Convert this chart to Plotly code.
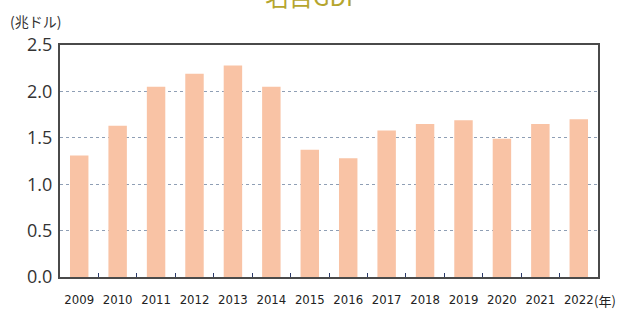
import plotly.graph_objects as go

years = ["2009", "2010", "2011", "2012", "2013", "2014", "2015",
         "2016", "2017", "2018", "2019", "2020", "2021", "2022"]
gdp = [1.31, 1.63, 2.05, 2.19, 2.28, 2.05, 1.37,
       1.28, 1.58, 1.65, 1.69, 1.49, 1.65, 1.70]
y_ticks = [0.0, 0.5, 1.0, 1.5, 2.0, 2.5]
y_tick_labels = ["0.0", "0.5", "1.0", "1.5", "2.0", "2.5"]
title_text = "名目GDP"
unit_y = "(兆ドル)"
unit_x = "(年)"

fig = go.Figure(go.Bar(x=years, y=gdp, marker=dict(color="#f9c3a5", line=dict(width=0)),
                       width=0.48))

fig.update_layout(
    width=617, height=310,
    margin=dict(l=60, r=19, t=45, b=33, autoexpand=False),
    paper_bgcolor="white", plot_bgcolor="white",
    showlegend=False,
    font=dict(family="Open Sans, Noto Sans CJK JP", color="#333333"),
)
fig.update_yaxes(
    range=[0, 2.5], tickvals=y_ticks, ticktext=y_tick_labels,
    showgrid=True, gridcolor="#8f9fb5", griddash="dot", gridwidth=1,
    showline=True, linecolor="#4a4a4a", linewidth=2, mirror=True,
    ticks="", tickfont=dict(size=18, color="#333333", family="Open Sans"),
    ticklabelstandoff=2, zeroline=False, automargin=False,
)
fig.update_xaxes(
    showline=True, linecolor="#4a4a4a", linewidth=2, mirror=True,
    tickson="boundaries", ticks="inside", ticklen=4, tickcolor="#2a3a6a", tickwidth=1,
    tickangle=0,
    tickfont=dict(size=13, color="#222222", family="DejaVu Sans Condensed, Liberation Sans Narrow, Roboto"),
    ticklabelstandoff=9, showgrid=False, automargin=False,
)
fig.add_annotation(text=unit_y, xref="paper", yref="paper", x=-0.0967, y=1.103,
                   xanchor="left", yanchor="middle", showarrow=False,
                   font=dict(size=14, color="#333333", family="Noto Sans CJK JP"))
fig.add_annotation(text=unit_x, xref="paper", yref="paper", x=0.989, y=-0.10,
                   xanchor="left", yanchor="middle", showarrow=False,
                   font=dict(size=13, color="#222222", family="Noto Sans CJK JP"))
fig.add_annotation(text=title_text, xref="paper", yref="paper", x=0.47, y=1.13,
                   xanchor="center", yanchor="bottom", showarrow=False,
                   font=dict(size=24, color="#b5a52e", family="Noto Sans CJK JP"))

fig.write_html("out.html", config={"displayModeBar": False},
               post_script="document.body.style.margin='0';document.body.style.overflow='hidden';")
